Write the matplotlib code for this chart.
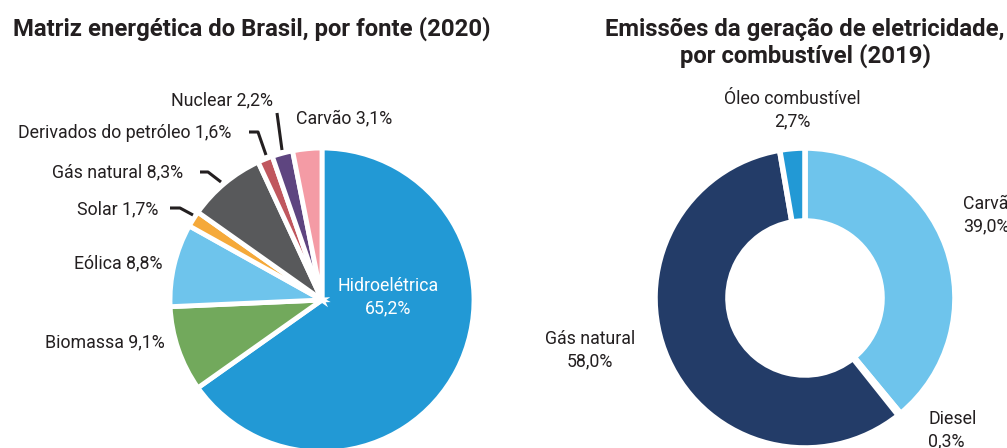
import matplotlib
matplotlib.use("Agg")
import matplotlib.pyplot as plt

# ---- data ----
left_labels = ["Hidroelétrica", "Biomassa", "Eólica", "Solar", "Gás natural",
               "Derivados do petróleo", "Nuclear", "Carvão"]
left_values = [65.2, 9.1, 8.8, 1.7, 8.3, 1.6, 2.2, 3.1]
left_colors = ["#2299D5", "#72A95C", "#6EC4EC", "#F5A93A", "#58595B",
               "#C0575E", "#5E4580", "#F49BA5"]

right_labels = ["Carvão", "Diesel", "Gás natural", "Óleo combustível"]
right_values = [39.0, 0.3, 58.0, 2.7]
right_colors = ["#6EC4EC", "#8A8C8E", "#233C68", "#2299D5"]

left_title = "Matriz energética do Brasil, por fonte (2020)"
right_title = "Emissões da geração de eletricidade,\npor combustível (2019)"

def fmt(v):
    return f"{v:.1f}".replace(".", ",") + "%"

plt.rcParams['font.family'] = ['Roboto', 'DejaVu Sans']
TXT = "#231F20"
W, H = 1007, 448
fig = plt.figure(figsize=(W / 100, H / 100), dpi=100)
ax = fig.add_axes([0, 0, 1, 1])

def Y(y):  # image-y to data-y
    return H - y

# left pie
ax.pie(left_values, colors=left_colors, startangle=90, counterclock=False,
       center=(322, Y(300)), radius=152,
       wedgeprops=dict(edgecolor='white', linewidth=3.5))

# right donut
ax.pie(right_values, colors=right_colors, startangle=90, counterclock=False,
       center=(805, Y(298)), radius=150,
       wedgeprops=dict(edgecolor='white', linewidth=4, width=73))

ax.set_xlim(0, W)
ax.set_ylim(0, H)
ax.set_aspect('equal')
ax.axis('off')

fs = 12.8
tfs = 17.2
# titles
ax.text(252, Y(29), left_title, ha='center', va='center', fontsize=tfs,
        fontweight='bold', color=TXT)
ax.text(805, Y(43), right_title, ha='center', va='center', fontsize=tfs,
        fontweight='bold', color=TXT, linespacing=1.15)

# left labels
lab = dict(fontsize=fs, color=TXT, va='center')
ax.text(388, Y(297), f"{left_labels[0]}\n{fmt(left_values[0])}", ha='center',
        fontsize=fs, color='white', va='center', linespacing=1.3)
ax.text(165, Y(342), f"{left_labels[1]} {fmt(left_values[1])}", ha='right', **lab)
ax.text(163, Y(263), f"{left_labels[2]} {fmt(left_values[2])}", ha='right', **lab)
ax.text(158, Y(209), f"{left_labels[3]} {fmt(left_values[3])}", ha='right', **lab)
ax.text(183, Y(172), f"{left_labels[4]} {fmt(left_values[4])}", ha='right', **lab)
ax.text(231, Y(133), f"{left_labels[5]} {fmt(left_values[5])}", ha='right', **lab)
ax.text(273, Y(100), f"{left_labels[6]} {fmt(left_values[6])}", ha='right', **lab)
ax.text(296, Y(118), f"{left_labels[7]} {fmt(left_values[7])}", ha='left', **lab)

# leader lines
lk = dict(color=TXT, linewidth=2.2, solid_capstyle='butt')
ax.plot([170, 180, 193], [Y(208), Y(208), Y(215)], **lk)
ax.plot([200, 208, 221], [Y(172), Y(172), Y(182)], **lk)
ax.plot([249, 258, 266], [Y(132), Y(132), Y(155)], **lk)
ax.plot([277, 282], [Y(113), Y(150)], **lk)

# right labels
ax.text(792, Y(110), f"{right_labels[3]}\n{fmt(right_values[3])}", ha='center',
        fontsize=fs, color=TXT, va='center', linespacing=1.3)
ax.text(963, Y(215), f"{right_labels[0]}\n{fmt(right_values[0])}", ha='left',
        fontsize=fs, color=TXT, va='center', linespacing=1.3)
ax.text(928, Y(430), f"{right_labels[1]}\n{fmt(right_values[1])}", ha='left',
        fontsize=fs, color=TXT, va='center', linespacing=1.3)
ax.text(590, Y(350), f"{right_labels[2]}\n{fmt(right_values[2])}", ha='center',
        fontsize=fs, color=TXT, va='center', linespacing=1.3)

fig.savefig("out.png", dpi=100, facecolor='white')
